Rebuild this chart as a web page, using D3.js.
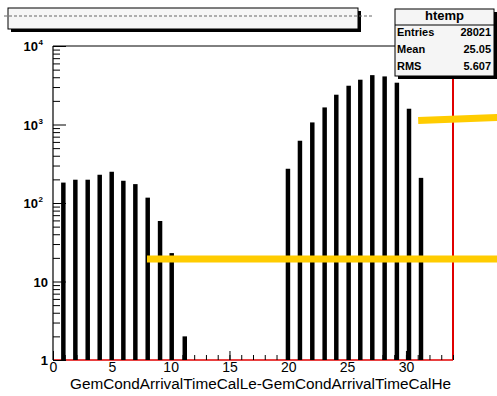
<!DOCTYPE html>
<html><head><meta charset="utf-8">
<script src="https://cdn.jsdelivr.net/npm/d3@7"></script>
<style>body{margin:0;background:#fff}svg{display:block}</style>
</head><body>
<script>
// ---- data ----
const binCenters = [0.88,1.90,2.95,3.97,4.99,5.98,7.00,8.05,9.10,10.09,11.20,
                    19.97,20.99,22.04,23.09,24.08,25.13,26.12,27.14,28.19,29.23,30.26,31.28];
const counts = [182,198,198,229,250,192,174,117,59,23,2,
                273,621,1063,1650,2396,3118,3720,4254,4098,3407,1588,209];
const xDomain = [0, 34];
const yDomain = [1, 10000];
const xMajorTicks = [0,5,10,15,20,25,30];
const xMinorTicks = d3.range(0, 35, 1);
const yMajorTicks = [1,10,100,1000,10000];
const yTickBase = ["1","10","10","10","10"];
const yTickSup = ["","","2","3","4"];
const histName = "htemp";
const statNames = ["Entries","Mean","RMS"];
const statValues = ["28021","25.05","5.607"];
const xTitle = "GemCondArrivalTimeCalLe-GemCondArrivalTimeCalHe";
const markX0 = [31.04, 7.99];
const markX1 = [37.76, 37.76];
const markY0 = [1125, 19.4];
const markY1 = [1228, 19.4];

// ---- layout ----
const W = 497, H = 396;
const L = 53, R = 453, T = 46, B = 360;
const binHalf = 0.19;

const svg = d3.select("body").append("svg").attr("width", W).attr("height", H);
svg.append("rect").attr("width", W).attr("height", H).attr("fill", "#fff");

const x = d3.scaleLinear().domain(xDomain).range([L, R]);
const y = d3.scaleLog().domain(yDomain).range([B, T]);

// red frame lines (bottom and right)
svg.append("line").attr("x1", L).attr("x2", R).attr("y1", B).attr("y2", B)
  .attr("stroke", "#e00000").attr("stroke-width", 1.5);
svg.append("line").attr("x1", R).attr("x2", R).attr("y1", T).attr("y2", B)
  .attr("stroke", "#e00000").attr("stroke-width", 2);

// bars
svg.append("g").selectAll("rect").data(binCenters).join("rect")
  .attr("x", (c) => x(c - binHalf))
  .attr("width", (c) => x(c + binHalf) - x(c - binHalf))
  .attr("y", (c, i) => y(counts[i]))
  .attr("height", (c, i) => B - y(counts[i]))
  .attr("fill", "#000");

// top and left frame lines
svg.append("line").attr("x1", L).attr("x2", R).attr("y1", T).attr("y2", T)
  .attr("stroke", "#000").attr("stroke-width", 1);
svg.append("line").attr("x1", L).attr("x2", L).attr("y1", T).attr("y2", B)
  .attr("stroke", "#000").attr("stroke-width", 1.2);

// y axis
const yMinor = [];
[1,10,100,1000].forEach(d => { for (let k = 2; k <= 9; k++) yMinor.push(d * k); });
const gyMinor = svg.append("g").attr("transform", `translate(${L},0)`)
  .call(d3.axisLeft(y).tickValues(yMinor).tickSize(-7).tickSizeOuter(0).tickFormat(""));
gyMinor.select(".domain").remove();
const gy = svg.append("g").attr("transform", `translate(${L},0)`)
  .call(d3.axisLeft(y).tickValues(yMajorTicks).tickSize(-13).tickSizeOuter(0).tickPadding(5).tickFormat(""));
gy.select(".domain").remove();
svg.selectAll(".tick line").attr("stroke", "#000").attr("stroke-width", 1);
gy.selectAll(".tick text").each(function(d, i) {
  const t = d3.select(this);
  t.text(null).attr("font-family", "Liberation Sans, Arial, sans-serif")
    .attr("font-weight", "bold").attr("font-size", 13).attr("fill", "#000")
    .attr("dy", "0.36em").attr("dx", yTickSup[i] ? -5 : 0);
  t.append("tspan").text(yTickBase[i]);
  if (yTickSup[i]) {
    t.append("tspan").attr("font-size", 8).attr("dy", "-0.75em").attr("dx", 0.5).text(yTickSup[i]);
  }
});
// reposition labels with superscripts so the whole label ends near the axis
gy.selectAll(".tick text").attr("text-anchor", "end");

// x axis
const gxMinor = svg.append("g").attr("transform", `translate(0,${B})`)
  .call(d3.axisBottom(x).tickValues(xMinorTicks).tickSize(-5).tickSizeOuter(0).tickFormat(""));
gxMinor.select(".domain").remove();
const gx = svg.append("g").attr("transform", `translate(0,${B})`)
  .call(d3.axisBottom(x).tickValues(xMajorTicks).tickSize(-9).tickSizeOuter(0).tickPadding(2));
gx.select(".domain").remove();
svg.selectAll(".tick line").attr("stroke", "#000");
gx.selectAll(".tick text").attr("font-family", "Liberation Sans, Arial, sans-serif")
  .attr("font-size", 14).attr("fill", "#000");

// x title
svg.append("text").attr("x", 451).attr("y", 389).attr("text-anchor", "end")
  .attr("font-family", "Liberation Sans, Arial, sans-serif").attr("font-size", 14)
  .attr("textLength", 381).attr("lengthAdjust", "spacingAndGlyphs")
  .attr("fill", "#000").text(xTitle);

// yellow marker lines
svg.append("g").selectAll("line").data(markX0).join("line")
  .attr("x1", (d) => x(d)).attr("x2", (d, i) => x(markX1[i]))
  .attr("y1", (d, i) => y(markY0[i])).attr("y2", (d, i) => y(markY1[i]))
  .attr("stroke", "#ffcc00").attr("stroke-width", 7);

// title box
svg.append("rect").attr("x", 11).attr("y", 11).attr("width", 350).attr("height", 21).attr("fill", "#000");
svg.append("rect").attr("x", 8).attr("y", 8).attr("width", 350).attr("height", 21)
  .attr("fill", "#f6f6f6").attr("stroke", "#000").attr("stroke-width", 1);
svg.append("line").attr("x1", 4).attr("x2", 373).attr("y1", 16).attr("y2", 16)
  .attr("stroke", "#666").attr("stroke-width", 1).attr("stroke-dasharray", "3,2");

// stats box
const sx = 395, sy = 9, sw = 99, sh = 67;
svg.append("rect").attr("x", sx + 3).attr("y", sy + 3).attr("width", sw).attr("height", sh).attr("fill", "#000");
svg.append("rect").attr("x", sx).attr("y", sy).attr("width", sw).attr("height", sh)
  .attr("fill", "#f5f5f5").attr("stroke", "#000").attr("stroke-width", 1);
svg.append("line").attr("x1", sx).attr("x2", sx + sw).attr("y1", 25).attr("y2", 25).attr("stroke", "#000");
svg.append("text").attr("x", sx + sw / 2).attr("y", 20).attr("text-anchor", "middle")
  .attr("font-family", "Liberation Sans, Arial, sans-serif").attr("font-weight", "bold")
  .attr("font-size", 13).text(histName);
const rowY = [36, 53, 70];
statNames.forEach((n, i) => {
  svg.append("text").attr("x", sx + 2).attr("y", rowY[i])
    .attr("font-family", "Liberation Sans, Arial, sans-serif").attr("font-weight", "bold")
    .attr("font-size", 11).text(n);
  svg.append("text").attr("x", sx + sw - 3).attr("y", rowY[i]).attr("text-anchor", "end")
    .attr("font-family", "Liberation Sans, Arial, sans-serif").attr("font-weight", "bold")
    .attr("font-size", 11).text(statValues[i]);
});
</script>
</body></html>
